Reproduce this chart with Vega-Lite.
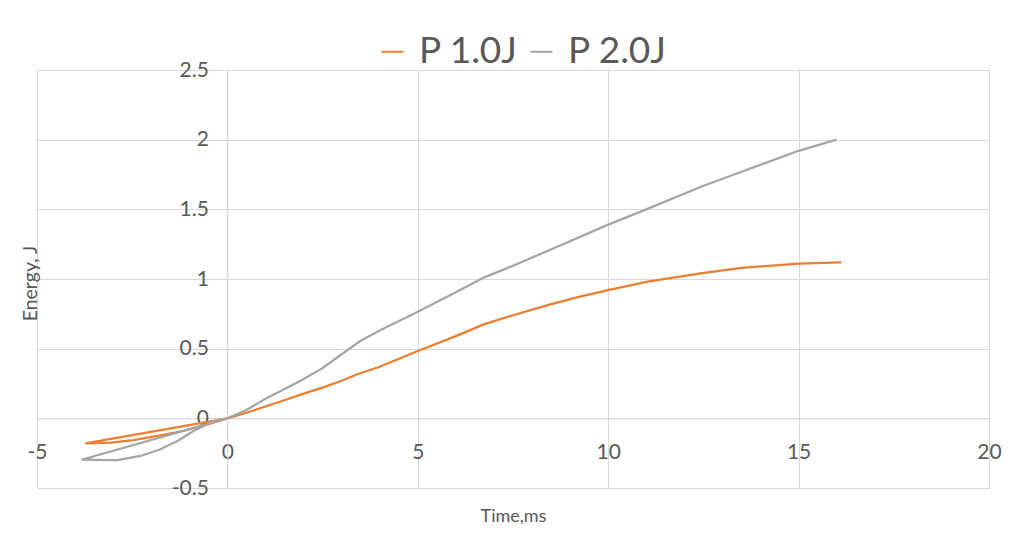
{
  "$schema": "https://vega.github.io/schema/vega-lite/v6.json",
  "width": 952,
  "height": 418,
  "autosize": {"type": "none"},
  "padding": {"left": 37, "top": 70, "right": 22, "bottom": 71},
  "background": "white",
  "data": {
    "values": [
      {"s": "P 1.0J", "i": 0, "t": 0, "e": 0},
      {"s": "P 1.0J", "i": 1, "t": -3.73, "e": -0.18},
      {"s": "P 1.0J", "i": 2, "t": -3.07, "e": -0.175},
      {"s": "P 1.0J", "i": 3, "t": -2.47, "e": -0.156},
      {"s": "P 1.0J", "i": 4, "t": -1.76, "e": -0.122},
      {"s": "P 1.0J", "i": 5, "t": -1.16, "e": -0.091},
      {"s": "P 1.0J", "i": 6, "t": -0.53, "e": -0.043},
      {"s": "P 1.0J", "i": 7, "t": 0, "e": 0},
      {"s": "P 1.0J", "i": 8, "t": 0.5, "e": 0.04},
      {"s": "P 1.0J", "i": 9, "t": 1.0, "e": 0.085},
      {"s": "P 1.0J", "i": 10, "t": 1.5, "e": 0.13},
      {"s": "P 1.0J", "i": 11, "t": 1.92, "e": 0.17},
      {"s": "P 1.0J", "i": 12, "t": 2.5, "e": 0.22},
      {"s": "P 1.0J", "i": 13, "t": 3.0, "e": 0.27},
      {"s": "P 1.0J", "i": 14, "t": 3.41, "e": 0.316},
      {"s": "P 1.0J", "i": 15, "t": 4.0, "e": 0.37},
      {"s": "P 1.0J", "i": 16, "t": 5.0, "e": 0.483},
      {"s": "P 1.0J", "i": 17, "t": 6.0, "e": 0.59},
      {"s": "P 1.0J", "i": 18, "t": 6.73, "e": 0.674},
      {"s": "P 1.0J", "i": 19, "t": 7.5, "e": 0.74},
      {"s": "P 1.0J", "i": 20, "t": 8.48, "e": 0.818},
      {"s": "P 1.0J", "i": 21, "t": 9.2, "e": 0.87},
      {"s": "P 1.0J", "i": 22, "t": 10.0, "e": 0.92},
      {"s": "P 1.0J", "i": 23, "t": 11.0, "e": 0.98},
      {"s": "P 1.0J", "i": 24, "t": 12.42, "e": 1.04},
      {"s": "P 1.0J", "i": 25, "t": 13.5, "e": 1.08},
      {"s": "P 1.0J", "i": 26, "t": 15.0, "e": 1.11},
      {"s": "P 1.0J", "i": 27, "t": 16.12, "e": 1.12},
      {"s": "P 2.0J", "i": 0, "t": 0, "e": 0},
      {"s": "P 2.0J", "i": 1, "t": -3.83, "e": -0.297},
      {"s": "P 2.0J", "i": 2, "t": -3.07, "e": -0.3},
      {"s": "P 2.0J", "i": 3, "t": -2.89, "e": -0.3},
      {"s": "P 2.0J", "i": 4, "t": -2.28, "e": -0.27},
      {"s": "P 2.0J", "i": 5, "t": -1.76, "e": -0.222},
      {"s": "P 2.0J", "i": 6, "t": -1.31, "e": -0.163},
      {"s": "P 2.0J", "i": 7, "t": -0.89, "e": -0.091},
      {"s": "P 2.0J", "i": 8, "t": -0.45, "e": -0.031},
      {"s": "P 2.0J", "i": 9, "t": 0, "e": 0},
      {"s": "P 2.0J", "i": 10, "t": 0.5, "e": 0.06},
      {"s": "P 2.0J", "i": 11, "t": 1.0, "e": 0.14},
      {"s": "P 2.0J", "i": 12, "t": 1.5, "e": 0.21},
      {"s": "P 2.0J", "i": 13, "t": 1.92, "e": 0.27},
      {"s": "P 2.0J", "i": 14, "t": 2.5, "e": 0.36},
      {"s": "P 2.0J", "i": 15, "t": 3.0, "e": 0.46},
      {"s": "P 2.0J", "i": 16, "t": 3.49, "e": 0.555},
      {"s": "P 2.0J", "i": 17, "t": 4.0, "e": 0.63},
      {"s": "P 2.0J", "i": 18, "t": 5.0, "e": 0.765},
      {"s": "P 2.0J", "i": 19, "t": 6.0, "e": 0.905},
      {"s": "P 2.0J", "i": 20, "t": 6.73, "e": 1.01},
      {"s": "P 2.0J", "i": 21, "t": 7.5, "e": 1.095},
      {"s": "P 2.0J", "i": 22, "t": 8.48, "e": 1.21},
      {"s": "P 2.0J", "i": 23, "t": 10.0, "e": 1.39},
      {"s": "P 2.0J", "i": 24, "t": 11.0, "e": 1.5},
      {"s": "P 2.0J", "i": 25, "t": 12.42, "e": 1.66},
      {"s": "P 2.0J", "i": 26, "t": 13.5, "e": 1.77},
      {"s": "P 2.0J", "i": 27, "t": 15.0, "e": 1.92},
      {"s": "P 2.0J", "i": 28, "t": 16.0, "e": 2.0}
    ]
  },
  "mark": {"type": "line", "strokeWidth": 2.25, "interpolate": "linear"},
  "encoding": {
    "x": {
      "field": "t",
      "type": "quantitative",
      "scale": {"domain": [-5, 20], "nice": false, "zero": false},
      "axis": {
        "title": "Time,ms",
        "values": [-5, 0, 5, 10, 15, 20],
        "offset": -69.67,
        "grid": true,
        "gridColor": "#D9D9D9",
        "gridWidth": 1,
        "domainColor": "#D9D9D9",
        "ticks": false,
        "labelPadding": 23,
        "labelFlush": false,
        "labelOverlap": false,
        "labelExpr": "'' + datum.value",
        "labelFont": "Lato",
        "labelFontSize": 21,
        "labelColor": "#595959",
        "titleFont": "Lato",
        "titleFontSize": 18,
        "titleFontWeight": "normal",
        "titleColor": "#595959",
        "titleX": 476,
        "titleY": 98,
        "titleAlign": "center",
        "titleBaseline": "middle"
      }
    },
    "y": {
      "field": "e",
      "type": "quantitative",
      "scale": {"domain": [-0.5, 2.5], "nice": false, "zero": false},
      "axis": {
        "title": "Energy, J",
        "values": [-0.5, 0, 0.5, 1, 1.5, 2, 2.5],
        "offset": -190.4,
        "grid": true,
        "gridColor": "#D9D9D9",
        "gridWidth": 1,
        "domainColor": "#D9D9D9",
        "ticks": false,
        "labelPadding": 19,
        "labelFlush": false,
        "labelOverlap": false,
        "labelExpr": "'' + datum.value",
        "labelFont": "Lato",
        "labelFontSize": 21,
        "labelColor": "#595959",
        "titleFont": "Lato",
        "titleFontSize": 19.5,
        "titleFontWeight": "normal",
        "titleColor": "#595959",
        "titleX": -197,
        "titleY": 213,
        "titleAngle": -90,
        "titleAlign": "center",
        "titleBaseline": "middle"
      }
    },
    "color": {
      "field": "s",
      "type": "nominal",
      "scale": {"domain": ["P 1.0J", "P 2.0J"], "range": ["#ED7D31", "#A5A5A5"]},
      "legend": {
        "orient": "none",
        "legendX": 337,
        "legendY": -37,
        "direction": "horizontal",
        "title": null,
        "symbolType": "stroke",
        "symbolSize": 484,
        "symbolStrokeWidth": 2,
        "labelFont": "Lato",
        "labelFontSize": 37,
        "labelColor": "#595959",
        "labelOffset": 8,
        "columnPadding": 5,
        "padding": 0,
        "labelLimit": 300
      }
    },
    "order": {"field": "i", "type": "quantitative"}
  },
  "config": {"view": {"stroke": null}}
}
